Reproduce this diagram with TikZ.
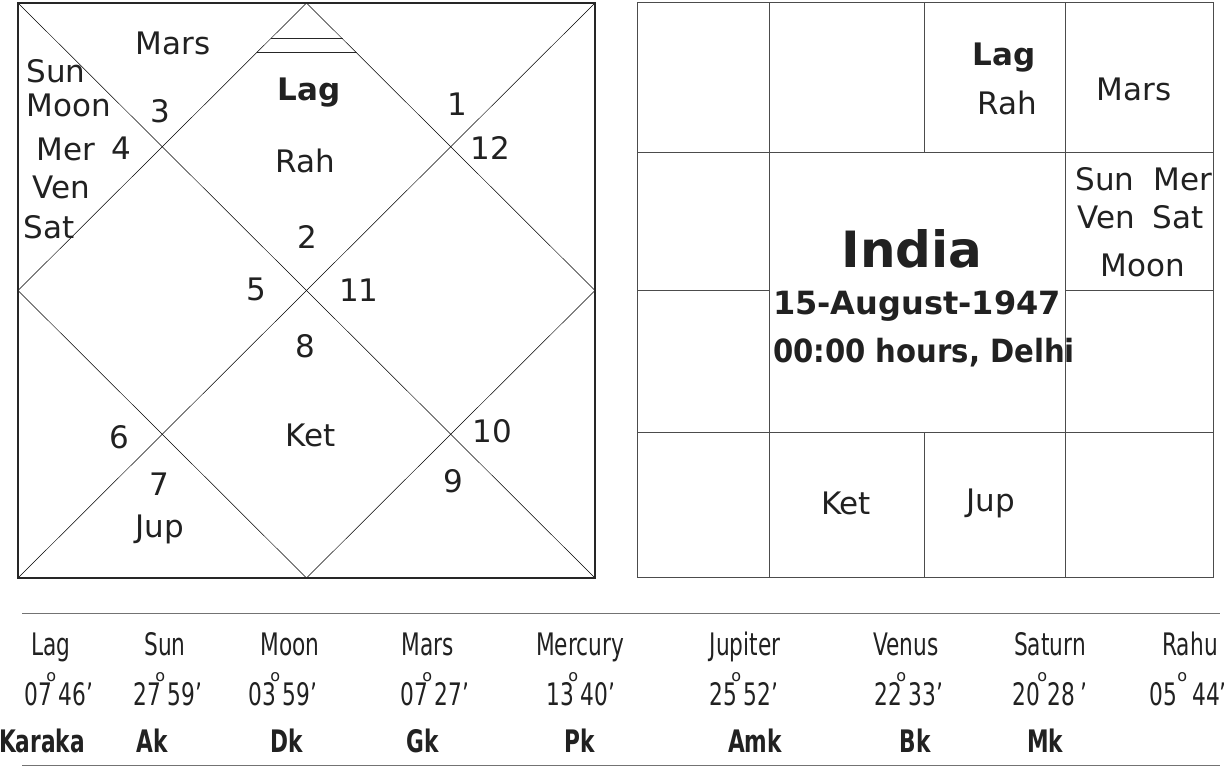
\documentclass[tikz,border=0pt]{standalone}
\usepackage{fontspec}
\setmainfont{DejaVu Sans}
\newfontfamily\narrowfont{DejaVu Sans}[FakeStretch=0.7]
\newfontfamily\semifont{DejaVu Sans}[FakeStretch=0.91]
\newfontfamily\plainfont{DejaVu Sans}
\newcommand\degmark{\raisebox{24pt}{\plainfont\fontsize{16}{16}\selectfont o}}
\newcommand\dg[2]{#1\kern-6pt\degmark\kern2.5pt#2’}
\begin{document}
\begin{tikzpicture}[x=1pt,y=-1pt,
  txt/.style={inner sep=0pt, text=black!87, text height=22.6pt, text depth=0pt, font=\fontsize{31}{36}\selectfont},
  txtb/.style={txt, font=\fontsize{31}{36}\selectfont\bfseries},
  big/.style={inner sep=0pt, text=black!87, text height=36pt, text depth=0pt, font=\fontsize{50}{56}\selectfont\bfseries},
  mid/.style={inner sep=0pt, text=black!87, text height=23.5pt, text depth=0pt, font=\fontsize{32}{36}\selectfont\bfseries},
  midn/.style={mid, font=\semifont\fontsize{32}{36}\selectfont\bfseries},
  tab/.style={inner sep=0pt, text=black!87, text height=22.6pt, text depth=0pt, font=\narrowfont\fontsize{31}{36}\selectfont},
  tabb/.style={tab, font=\narrowfont\fontsize{31}{36}\selectfont\bfseries},
  frame/.style={draw=black!85, line width=1.3pt},
  thinline/.style={draw=black, line width=0.5pt},
  gridline/.style={draw=black!70, line width=1pt},
  rule/.style={draw=black!55, line width=1pt}]
\useasboundingbox (0,0) rectangle (1225,767);
\fill[white] (0,0) rectangle (1225,767);

% ---------- left chart ----------
\coordinate (LTL) at (18,3);
\coordinate (LTR) at (595,3);
\coordinate (LBR) at (595,578);
\coordinate (LBL) at (18,578);
\coordinate (LT) at (306.5,3);
\coordinate (LR) at (595,290.5);
\coordinate (LB) at (306.5,578);
\coordinate (LL) at (18,290.5);
\draw[thinline] (LTL) -- (LBR);
\draw[thinline] (LTR) -- (LBL);
\draw[thinline] (LT) -- (LR) -- (LB) -- (LL) -- cycle;
\draw[frame] (LTL) -- (LTR) -- (LBR) -- (LBL) -- cycle;
\coordinate (M1a) at (270.5,39);
\coordinate (M1b) at (342.5,39);
\coordinate (M2a) at (256.5,53);
\coordinate (M2b) at (356.5,53);
\draw[draw=black!85, line width=1pt] (M1a) -- (M1b);
\draw[draw=black!85, line width=1pt] (M2a) -- (M2b);

\node[txt] (lmars) at (173,43) {Mars};
\node[txtb] (llag) at (309,89) {Lag};
\node[txt] (lrah) at (305,161) {Rah};
\node[txt] (lsun) at (56,71) {Sun};
\node[txt] (lmoon) at (69,105) {Moon};
\node[txt] (lmer) at (66,149) {Mer};
\node[txt] (lven) at (61,187) {Ven};
\node[txt] (lsat) at (49,227) {Sat};
\node[txt] (h3) at (160,111) {3};
\node[txt] (h4) at (121,148) {4};
\node[txt] (h1) at (457,104) {1};
\node[txt] (h12) at (490,148) {12};
\node[txt] (h2) at (307,237) {2};
\node[txt] (h5) at (256,289) {5};
\node[txt] (h11) at (359,290) {11};
\node[txt] (h8) at (305,346) {8};
\node[txt] (h6) at (119,437) {6};
\node[txt] (lket) at (311,435) {Ket};
\node[txt] (h10) at (492,431) {10};
\node[txt] (h7) at (159,484) {7};
\node[txt] (h9) at (453,481) {9};
\node[txt] (ljup) at (160,526) {Jup};

% ---------- right chart ----------
\coordinate (R00) at (637,3);
\coordinate (R30) at (1213,3);
\coordinate (R33) at (1213,577);
\coordinate (R03) at (637,577);
\draw[gridline] (R00) -- (R30) -- (R33) -- (R03) -- cycle;
\coordinate (V1t) at (769,3);   \coordinate (V1b) at (769,577);
\coordinate (V3t) at (1065,3);  \coordinate (V3b) at (1065,577);
\coordinate (V2t) at (924,3);   \coordinate (V2m) at (924,153);
\coordinate (V2n) at (924,432); \coordinate (V2b) at (924,577);
\coordinate (H1l) at (637,153); \coordinate (H1r) at (1213,153);
\coordinate (H3l) at (637,432); \coordinate (H3r) at (1213,432);
\coordinate (H2a) at (637,290); \coordinate (H2b) at (769,290);
\coordinate (H2c) at (1065,290); \coordinate (H2d) at (1213,290);
\draw[gridline] (V1t) -- (V1b);
\draw[gridline] (V3t) -- (V3b);
\draw[gridline] (V2t) -- (V2m);
\draw[gridline] (V2n) -- (V2b);
\draw[gridline] (H1l) -- (H1r);
\draw[gridline] (H3l) -- (H3r);
\draw[gridline] (H2a) -- (H2b);
\draw[gridline] (H2c) -- (H2d);

\node[txtb] (rlag) at (1004,54) {Lag};
\node[txt] (rrah) at (1007,103) {Rah};
\node[txt] (rmars) at (1134,89) {Mars};
\node[txt] (rsun) at (1105,179) {Sun};
\node[txt] (rmer) at (1183,179) {Mer};
\node[txt] (rven) at (1106,217) {Ven};
\node[txt] (rsat) at (1178,217) {Sat};
\node[txt] (rmoon) at (1143,265) {Moon};
\node[big] (india) at (912,250) {India};
\node[mid] (date) at (917,303) {15-August-1947};
\node[midn] (time) at (924,351) {00:00 hours, Delhi};
\node[txt] (rket) at (846,503) {Ket};
\node[txt] (rjup) at (991,500) {Jup};

% ---------- table ----------
\coordinate (T1a) at (22,613); \coordinate (T1b) at (1220,613);
\coordinate (T2a) at (22,765); \coordinate (T2b) at (1220,765);
\draw[rule] (T1a) -- (T1b);
\draw[rule] (T2a) -- (T2b);

\node[tab] (n1) at (51,644) {Lag};
\node[tab] (n2) at (165,644) {Sun};
\node[tab] (n3) at (290,644) {Moon};
\node[tab] (n4) at (428,644) {Mars};
\node[tab] (n5) at (580,644) {Mercury};
\node[tab] (n6) at (745,644) {Jupiter};
\node[tab] (n7) at (906,644) {Venus};
\node[tab] (n8) at (1050,644) {Saturn};
\node[tab] (n9) at (1190,644) {Rahu};

\node[tab] (d1) at (59,694) {\dg{07}{46}};
\node[tab] (d2) at (168,694) {\dg{27}{59}};
\node[tab] (d3) at (283,694) {\dg{03}{59}};
\node[tab] (d4) at (435,694) {\dg{07}{27}};
\node[tab] (d5) at (581,694) {\dg{13}{40}};
\node[tab] (d6) at (744,694) {\dg{25}{52}};
\node[tab] (d7) at (909,694) {\dg{22}{33}};
\node[tab] (d8) at (1050,694) {20\kern-3pt\degmark\kern0.5pt28\,’};
\node[tab] (d9) at (1188,694) {05\kern0.5pt\degmark\kern5pt44’};

\node[tabb] (k0) at (42,741) {Karaka};
\node[tabb] (k1) at (152,741) {Ak};
\node[tabb] (k2) at (287,741) {Dk};
\node[tabb] (k3) at (423,741) {Gk};
\node[tabb] (k4) at (580,741) {Pk};
\node[tabb] (k5) at (755,741) {Amk};
\node[tabb] (k6) at (915,741) {Bk};
\node[tabb] (k7) at (1045,741) {Mk};
\end{tikzpicture}
\end{document}
